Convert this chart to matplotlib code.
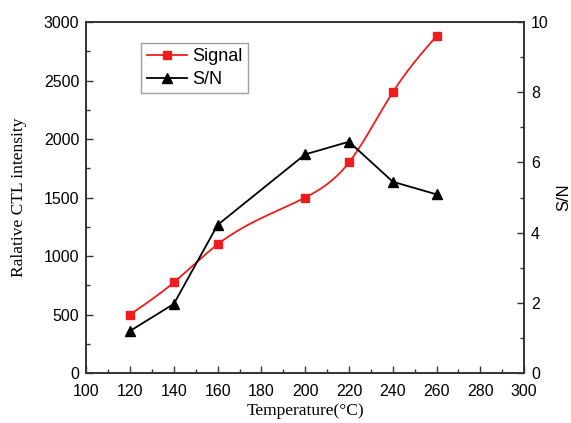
import numpy as np
import matplotlib
matplotlib.use('Agg')
import matplotlib.pyplot as plt
from matplotlib.ticker import MultipleLocator

temperature = [120, 140, 160, 200, 220, 240, 260]
signal = [500, 775, 1100, 1500, 1800, 2400, 2880]
snr = [1.2, 1.97, 4.22, 6.23, 6.59, 5.45, 5.09]


def cubic_spline(x, y, n=300):
    # natural cubic spline through the points, drawn like Origin's spline line
    x = np.asarray(x, float)
    y = np.asarray(y, float)
    h = np.diff(x)
    k = len(x)
    A = np.zeros((k, k))
    b = np.zeros(k)
    A[0, 0] = A[-1, -1] = 1
    for i in range(1, k - 1):
        A[i, i - 1] = h[i - 1]
        A[i, i] = 2 * (h[i - 1] + h[i])
        A[i, i + 1] = h[i]
        b[i] = 3 * ((y[i + 1] - y[i]) / h[i] - (y[i] - y[i - 1]) / h[i - 1])
    c = np.linalg.solve(A, b)
    xs = np.linspace(x[0], x[-1], n)
    ys = np.empty_like(xs)
    for j, xv in enumerate(xs):
        i = min(np.searchsorted(x, xv, side='right') - 1, k - 2)
        d = (c[i + 1] - c[i]) / (3 * h[i])
        bb = (y[i + 1] - y[i]) / h[i] - h[i] * (2 * c[i] + c[i + 1]) / 3
        t = xv - x[i]
        ys[j] = y[i] + bb * t + c[i] * t ** 2 + d * t ** 3
    return xs, ys


sans = ['Liberation Sans', 'DejaVu Sans']
serif = ['Liberation Serif', 'DejaVu Serif']

fig = plt.figure(figsize=(5.71, 4.23), dpi=100)
ax = fig.add_axes([0.151, 0.118, 0.767, 0.830])
ax2 = ax.twinx()

xs, ys = cubic_spline(temperature, signal)
ax.plot(xs, ys, color='#ee1c1c', lw=1.3)
ax.plot(temperature, signal, 's', color='#ee1c1c', ms=5.5)
ax2.plot(temperature, snr, '-^', color='black', lw=1.3, ms=6.5)

ax.set_xlim(100, 300)
ax.set_ylim(0, 3000)
ax2.set_ylim(0, 10)
ax.xaxis.set_major_locator(MultipleLocator(20))
ax.xaxis.set_minor_locator(MultipleLocator(10))
ax.yaxis.set_major_locator(MultipleLocator(500))
ax.yaxis.set_minor_locator(MultipleLocator(250))
ax2.yaxis.set_major_locator(MultipleLocator(2))
ax2.yaxis.set_minor_locator(MultipleLocator(1))

for a in (ax, ax2):
    a.tick_params(which='both', direction='in', width=1, colors='#333333',
                  labelcolor='black', top=False)
    a.tick_params(which='major', length=5, pad=5)
    a.tick_params(which='minor', length=3)
    for s in a.spines.values():
        s.set_linewidth(1.2)
        s.set_color('#333333')
ax.tick_params(right=False, which='both')
ax.tick_params(axis='x', which='major', pad=8)
for lab in ax.get_xticklabels() + ax.get_yticklabels() + ax2.get_yticklabels():
    lab.set_family(sans)
    lab.set_fontsize(11.5)

ax.set_xlabel('Temperature(°C)', family=serif, fontsize=12.5, labelpad=3)
ax.set_ylabel('Ralative CTL intensity', family=serif, fontsize=12.5, labelpad=12)
ax2.set_ylabel('S/N', family=sans, fontsize=12, rotation=90, labelpad=5)

h1, = ax.plot([], [], '-s', color='#ee1c1c', lw=1.3, ms=5.5)
h2, = ax.plot([], [], '-^', color='black', lw=1.3, ms=6.5)
leg = ax.legend([h1, h2], ['Signal', 'S/N'], loc='upper left',
                bbox_to_anchor=(0.126, 0.94), borderaxespad=0,
                prop={'family': sans, 'size': 13},
                fancybox=False, edgecolor='#888888', handlelength=2.2,
                borderpad=0.3, labelspacing=0.3, handletextpad=0.3)
leg.get_frame().set_linewidth(1)

fig.savefig('out.png', dpi=100)
